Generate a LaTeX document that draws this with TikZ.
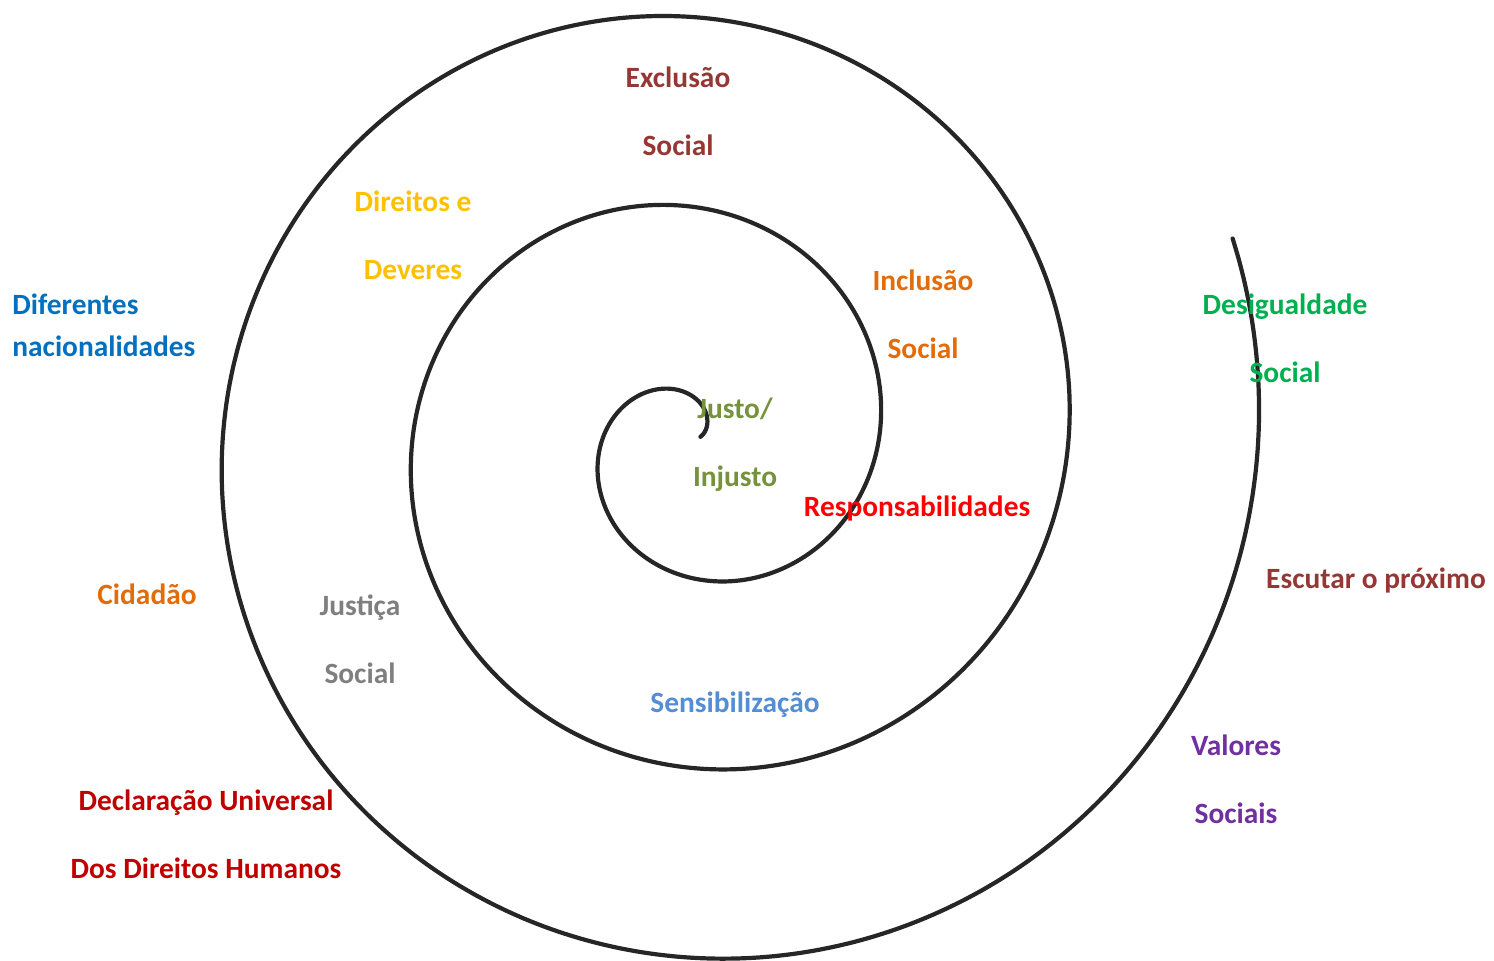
\documentclass[tikz,border=0pt]{standalone}
\usepackage{fontspec}
\setmainfont{Carlito}
\definecolor{exred}{HTML}{953734}
\definecolor{gold}{HTML}{FFC000}
\definecolor{natblue}{HTML}{0070C0}
\definecolor{incorange}{HTML}{E36C09}
\definecolor{olive}{HTML}{76923C}
\definecolor{respred}{HTML}{FF0000}
\definecolor{desgreen}{HTML}{00B050}
\definecolor{jgray}{HTML}{7F7F7F}
\definecolor{sensblue}{HTML}{548DD4}
\definecolor{declred}{HTML}{C00000}
\definecolor{valpurple}{HTML}{7030A0}
\begin{document}
\begin{tikzpicture}[x=0.5pt, y=-0.5pt,
  spiral/.style={line width=2.1pt, draw=black!85, line cap=round},
  label/.style={font=\fontsize{14.7}{34}\selectfont\bfseries, inner sep=0pt, align=center, anchor=base},
  sidelabel/.style={font=\fontsize{14.7}{21}\selectfont\bfseries, inner sep=0pt, align=left, anchor=base west}
]
  % ===== Canvas =====
  \useasboundingbox (0,0) rectangle (1494,961);

  % ===== Spiral =====
  \draw[spiral] plot[domain=0.4:19.21, samples=500, smooth, variable=\t]
    ({693+(30.2*\t-4)*cos(\t r)}, {440-(30.2*\t-4)*sin(\t r)});

  % ===== Inner turn (base = last line) =====
  \node[label, text=olive] (justo) at (735,487) {Justo/\\Injusto};
  \node[label, text=respred] (resp) at (917,517) {Responsabilidades};
  \node[label, text=incorange] (inclusao) at (923,359) {Inclusão\\Social};

  % ===== Middle turn =====
  \node[label, text=exred] (exclusao) at (678,156) {Exclusão\\Social};
  \node[label, text=gold] (direitos) at (413,280) {Direitos e\\Deveres};
  \node[label, text=jgray] (justica) at (360,684) {Justiça\\Social};
  \node[label, text=sensblue] (sensib) at (735,713) {Sensibilização};

  % ===== Outer turn =====
  \node[sidelabel, text=natblue] (nacional) at (12,357) {Diferentes\\nacionalidades};
  \node[label, text=incorange] (cidadao) at (147,605) {Cidadão};
  \node[label, text=declred] (declaracao) at (206,878) {Declaração Universal\\Dos Direitos Humanos};
  \node[label, text=desgreen] (desig) at (1285,383) {Desigualdade\\Social};
  \node[label, text=exred] (escutar) at (1376,589) {Escutar o próximo};
  \node[label, text=valpurple] (valores) at (1236,824) {Valores\\Sociais};
\end{tikzpicture}
\end{document}
